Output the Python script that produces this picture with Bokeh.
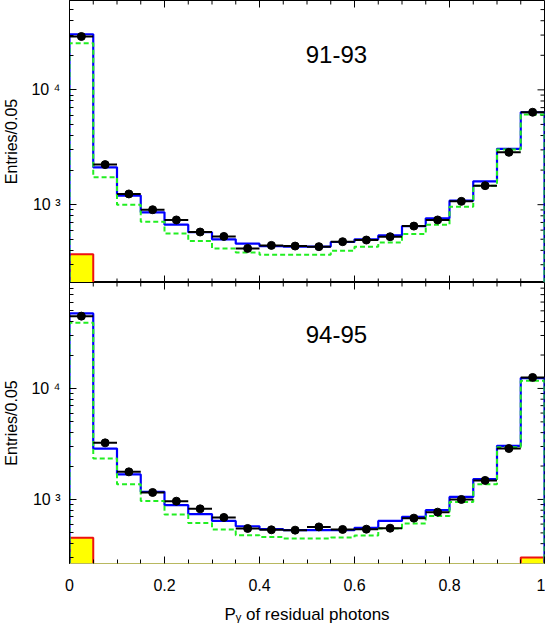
import math
from bokeh.plotting import figure
from bokeh.layouts import column
from bokeh.models import Range1d, FixedTicker, Label
from bokeh.embed import file_html
from bokeh.resources import INLINE

# ---------------- data ----------------
bin_edges = [0.0, 0.05, 0.1, 0.15, 0.2, 0.25, 0.3, 0.35, 0.4, 0.45, 0.5,
             0.55, 0.6, 0.65, 0.7, 0.75, 0.8, 0.85, 0.9, 0.95, 1.0]

# 91-93
data_9193 = [29150, 2233, 1240, 904, 736, 578, 529, 416, 442, 436,
             431, 476, 492, 526, 651, 736, 1069, 1465, 2857, 6383]
mc_9193 = [30500, 2113, 1200, 857, 670, 575, 499, 457, 436, 430,
           432, 473, 499, 540, 651, 760, 1084, 1597, 3063, 6383]
sig_9193 = [25460, 1730, 1000, 711, 562, 482, 416, 384, 366, 366,
            366, 397, 431, 469, 556, 670, 961, 1460, 3019, 6096]
bkg_9193 = [370, 0, 0, 0, 0, 0, 0, 0, 0, 0,
            0, 0, 0, 0, 0, 0, 0, 0, 0, 0]

# 94-95
data_9495 = [44800, 3236, 1773, 1156, 965, 823, 689, 548, 533, 529,
             566, 537, 540, 551, 679, 769, 1000, 1484, 2876, 12560]
mc_9495 = [47400, 2876, 1680, 1171, 889, 738, 641, 574, 540, 530,
           529, 529, 555, 641, 697, 801, 1055, 1524, 3042, 12400]
sig_9495 = [39000, 2340, 1373, 971, 732, 615, 537, 477, 460, 445,
            445, 455, 474, 548, 608, 711, 951, 1373, 2960, 11720]
bkg_9495 = [451, 0, 0, 0, 0, 0, 0, 0, 0, 0,
            0, 0, 0, 0, 0, 0, 0, 0, 0, 300]

x_ticks = [0, 0.2, 0.4, 0.6, 0.8, 1.0]
x_tick_labels = ["0", "0.2", "0.4", "0.6", "0.8", "1"]
x_minor = [0.05, 0.1, 0.15, 0.25, 0.3, 0.35, 0.45, 0.5, 0.55,
           0.65, 0.7, 0.75, 0.85, 0.9, 0.95]
y_decades = [100, 1000, 10000, 100000]
y_tick_labels = ["10 \u00b2", "10 \u00b3", "10 \u2074", "10 \u2075"]
y_minor = [m * d for d in [100, 1000, 10000] for m in range(2, 10)]

FONT = "Liberation Sans"


def hist_line(vals, floor):
    xs = [bin_edges[0]]
    ys = [floor]
    for i, v in enumerate(vals):
        xs += [bin_edges[i], bin_edges[i + 1]]
        ys += [v, v]
    xs.append(bin_edges[-1])
    ys.append(floor)
    return xs, ys


def style_ticks(ax):
    ax.major_tick_in = 7
    ax.major_tick_out = 0
    ax.minor_tick_in = 4
    ax.minor_tick_out = 0
    ax.major_tick_line_color = "black"
    ax.minor_tick_line_color = "black"
    ax.axis_line_color = "black"
    ax.axis_line_width = 1


def make_panel(data, mc, sig, bkg, tag, tag_y, ylo, yhi, height, bottom_border,
               with_x_axis):
    p = figure(width=545, height=height, y_axis_type="log",
               x_range=Range1d(0, 1), y_range=Range1d(ylo, yhi),
               output_backend="svg", toolbar_location=None,
               x_axis_location="below" if with_x_axis else None,
               min_border_left=68, min_border_right=1, min_border_top=0,
               min_border_bottom=bottom_border)
    p.xgrid.grid_line_color = None
    p.ygrid.grid_line_color = None
    p.outline_line_color = "black"
    p.outline_line_width = 1
    p.background_fill_color = "white"
    p.border_fill_color = "white"

    # left (log) axis with labels
    ya = p.yaxis[0]
    ya.ticker = FixedTicker(ticks=y_decades, minor_ticks=y_minor)
    style_ticks(ya)
    ya.major_label_overrides = {d: s for d, s in zip(y_decades, y_tick_labels)}
    ya.major_label_text_font = FONT
    ya.major_label_text_font_size = "16px"
    ya.major_label_text_color = "black"
    ya.major_label_standoff = 9
    ya.major_label_orientation = "horizontal"
    ya.axis_label = "Entries/0.05"
    ya.axis_label_text_font = FONT
    ya.axis_label_text_font_size = "16px"
    ya.axis_label_text_font_style = "normal"
    ya.axis_label_text_color = "black"
    ya.axis_label_standoff = 8

    if with_x_axis:
        xa = p.xaxis[0]
        xa.ticker = FixedTicker(ticks=x_ticks, minor_ticks=x_minor)
        style_ticks(xa)
        xa.axis_line_color = "#b8b860"
        xa.major_label_overrides = {t: s for t, s in zip(x_ticks, x_tick_labels)}
        xa.major_label_text_font = FONT
        xa.major_label_text_font_size = "16px"
        xa.major_label_text_color = "black"
        xa.major_label_standoff = 15
        xa.axis_label = "P\u1d67 of residual photons"
        xa.axis_label_text_font = FONT
        xa.axis_label_text_font_size = "17px"
        xa.axis_label_text_font_style = "normal"
        xa.axis_label_text_color = "black"
        xa.axis_label_standoff = 11

    # inward ticks on the sides without an axis (drawn as clipped dash markers)
    edges_x = [] if with_x_axis else [ylo]
    for yedge in [yhi] + edges_x:
        p.scatter(x=x_ticks, y=[yedge] * len(x_ticks), marker="dash",
                  angle=math.pi / 2, size=14, line_color="black", line_width=1)
        p.scatter(x=x_minor, y=[yedge] * len(x_minor), marker="dash",
                  angle=math.pi / 2, size=8, line_color="black", line_width=1)
    ymaj = [d for d in y_decades if ylo < d < yhi]
    ymin_ = [d for d in y_minor if ylo < d < yhi]
    p.scatter(x=[1.0] * len(ymaj), y=ymaj, marker="dash", size=14,
              line_color="black", line_width=1)
    p.scatter(x=[1.0] * len(ymin_), y=ymin_, marker="dash", size=8,
              line_color="black", line_width=1)

    floor = ylo * 0.5
    lefts = bin_edges[:-1]
    rights = bin_edges[1:]
    centers = [(a + b) / 2 for a, b in zip(lefts, rights)]

    # background (yellow)
    bl = [lefts[i] for i, v in enumerate(bkg) if v > 0]
    br = [rights[i] for i, v in enumerate(bkg) if v > 0]
    bt = [v for v in bkg if v > 0]
    p.quad(left=bl, right=br, bottom=[floor] * len(bt), top=bt,
           fill_color="#ffff00", line_color="#ee1111", line_width=2)

    # total MC (blue)
    hx, hy = hist_line(mc, floor)
    p.line(hx, hy, line_color="#0000ff", line_width=2.2)
    # signal MC (green dashed)
    gx, gy = hist_line(sig, floor)
    p.line(gx, gy, line_color="#22ee22", line_width=2, line_dash="5 3")

    # data
    p.segment(x0=lefts, x1=rights, y0=data, y1=data, line_color="black",
              line_width=2)
    p.scatter(centers, data, size=8, fill_color="black", line_color="black")

    # tag
    p.add_layout(Label(x=0.562, y=tag_y, text=tag, text_align="center",
                       text_baseline="alphabetic", text_font=FONT,
                       text_font_size="24px", text_color="black"))
    return p


p1 = make_panel(data_9193, mc_9193, sig_9193, bkg_9193, "91-93", 20320,
                210, 60000, 282, 0, False)
p2 = make_panel(data_9495, mc_9495, sig_9495, bkg_9495, "94-95", 30830,
                265, 90000, 345, 64, True)

layout = column(p1, p2, spacing=0)

with open("out.html", "w") as f:
    f.write(file_html(layout, INLINE))
